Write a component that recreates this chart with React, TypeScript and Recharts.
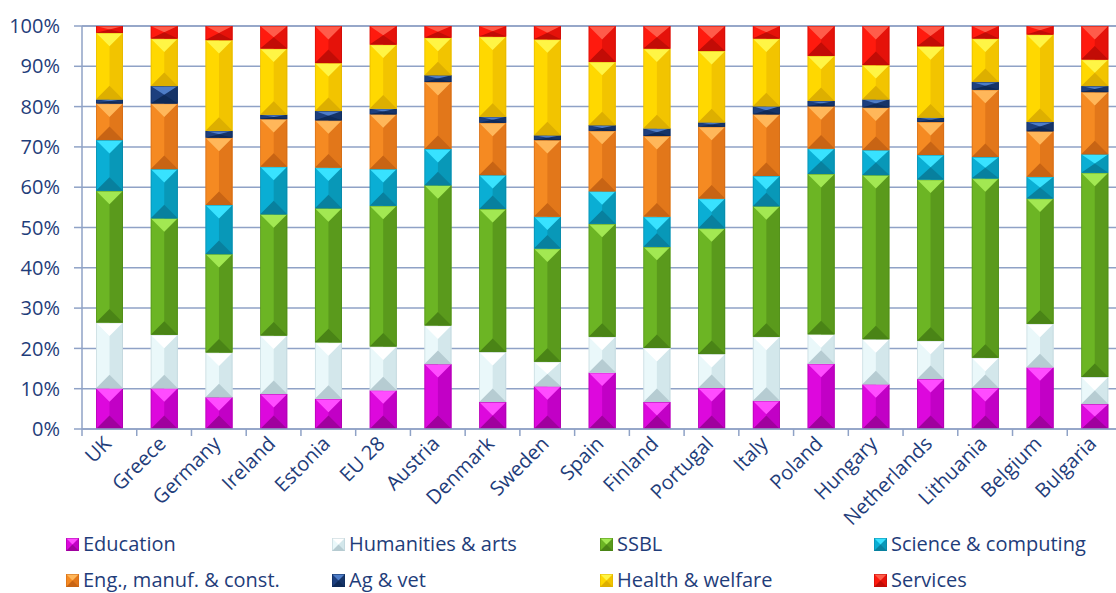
import React from 'react';
import { BarChart, Bar, XAxis, YAxis, CartesianGrid } from 'recharts';

const countries = ['UK', 'Greece', 'Germany', 'Ireland', 'Estonia', 'EU 28', 'Austria', 'Denmark', 'Sweden', 'Spain',
    'Finland', 'Portugal', 'Italy', 'Poland', 'Hungary', 'Netherlands', 'Lithuania', 'Belgium', 'Bulgaria'];

// shares in %, one value per country (same order as above)
const education = [10.1, 10.1, 7.9, 8.7, 7.5, 9.6, 16.1, 6.7, 10.6, 14.0, 6.7, 10.2, 7.0, 16.2, 11.1, 12.4, 10.2, 15.3, 6.2];
const humanities = [16.3, 13.3, 11.1, 14.5, 14.0, 10.9, 9.6, 12.4, 6.1, 8.9, 13.4, 8.4, 15.9, 7.3, 11.2, 9.5, 7.5, 10.8, 6.7];
const ssbl = [32.7, 28.9, 24.4, 30.1, 33.3, 34.9, 34.8, 35.5, 28.1, 28.0, 25.1, 31.2, 32.4, 39.8, 40.7, 40.0, 44.5, 31.1, 50.7];
const science = [12.6, 12.2, 12.2, 11.8, 10.1, 9.1, 9.0, 8.4, 7.9, 8.1, 7.5, 7.4, 7.5, 6.3, 6.2, 6.1, 5.3, 5.4, 4.6];
const engineering = [9.1, 16.3, 16.7, 11.8, 11.7, 13.6, 16.6, 13.0, 19.0, 15.0, 20.0, 17.8, 15.3, 10.5, 10.6, 8.2, 16.7, 11.3, 15.4];
const agVet = [1.0, 4.3, 1.7, 1.1, 2.3, 1.4, 1.7, 1.5, 1.2, 1.4, 1.9, 1.1, 2.0, 1.3, 2.0, 1.1, 1.9, 2.3, 1.5];
const health = [16.5, 11.8, 22.5, 16.4, 11.9, 15.9, 9.3, 19.9, 23.8, 15.7, 19.8, 17.7, 16.8, 11.2, 8.5, 17.7, 10.8, 21.7, 6.6];
const services = [1.7, 3.1, 3.5, 5.6, 9.2, 4.6, 2.9, 2.6, 3.3, 8.9, 5.6, 6.2, 3.1, 7.4, 9.7, 5.0, 3.1, 2.1, 8.3];

const yTicks = [0, 10, 20, 30, 40, 50, 60, 70, 80, 90, 100];

const series = [
    { key: 'edu', name: 'Education', values: education, main: '#DD08DD', light: '#FF4CFF', right: '#C200C6', bottom: '#A0009E' },
    { key: 'hum', name: 'Humanities & arts', values: humanities, main: '#EAF8FA', light: '#FFFFFF', right: '#D3E7EB', bottom: '#B6CCD2' },
    { key: 'ssbl', name: 'SSBL', values: ssbl, main: '#6CB524', light: '#A2E852', right: '#5A9A1C', bottom: '#4A8416' },
    { key: 'sci', name: 'Science & computing', values: science, main: '#0AAED4', light: '#38E2FF', right: '#0898B8', bottom: '#08809E' },
    { key: 'eng', name: 'Eng., manuf. & const.', values: engineering, main: '#F58A22', light: '#FFB75A', right: '#E2771A', bottom: '#C86414' },
    { key: 'ag', name: 'Ag & vet', values: agVet, main: '#1D3F7E', light: '#4E7DC8', right: '#163468', bottom: '#0E2A58' },
    { key: 'hw', name: 'Health & welfare', values: health, main: '#FFD800', light: '#FFF545', right: '#F2C400', bottom: '#DDAF00' },
    { key: 'srv', name: 'Services', values: services, main: '#FF1A0E', light: '#FF5C4A', right: '#E5120A', bottom: '#C20C06' },
];

const data = countries.map((c, i) => {
    const row: any = { name: c };
    series.forEach(s => { row[s.key] = s.values[i]; });
    return row;
});

const TEXT = '#1F3D7A';
const AXIS = '#8FA2C6';
const FONT = '"Open Sans", sans-serif';
const BAND = 1040 / 19;

// bevelled "pyramid" look of the original bars
const BevelRect = ({ x, y, width, height, s }: any) => {
    if (!height || height <= 0) return null;
    const d = Math.min(width / 2, height / 2);
    const cx = x + width / 2;
    return (
        <g>
            <rect x={x} y={y} width={width} height={height} fill={s.main} />
            <rect x={cx} y={y} width={width / 2} height={height} fill={s.right} />
            <polygon points={`${x},${y} ${x + width},${y} ${cx},${y + d}`} fill={s.light} />
            <polygon points={`${x},${y + height} ${x + width},${y + height} ${cx},${y + height - d}`} fill={s.bottom} />
            <rect x={x + 0.4} y={y + 0.4} width={width - 0.8} height={Math.max(height - 0.8, 0)} fill="none" stroke={s.bottom} strokeOpacity={0.6} strokeWidth={0.8} />
        </g>
    );
};

const XTick = ({ x, y, payload }: any) => (
    <g>
        <line x1={x - BAND / 2} y1={y} x2={x - BAND / 2} y2={y + 7} stroke={AXIS} strokeWidth={1.5} />
        <text x={x + 3} y={y + 16} textAnchor="end" transform={`rotate(-45, ${x + 3}, ${y + 16})`}
            fill={TEXT} fontSize={20} fontFamily={FONT}>
            {payload.value}
        </text>
    </g>
);

const legendLeft = [66, 332, 600, 874];
const legendTop = [537, 573];

const Legend = () => (
    <div>
        {series.map((s, i) => (
            <div key={s.key} style={{
                position: 'absolute', left: legendLeft[i % 4], top: legendTop[Math.floor(i / 4)],
                display: 'flex', alignItems: 'center', fontFamily: FONT, fontSize: 20, color: TEXT, whiteSpace: 'nowrap', lineHeight: '14px'
            }}>
                <svg width={13} height={13} style={{ marginRight: 4 }}>
                    <BevelRect x={0} y={0} width={13} height={13} s={s} />
                </svg>
                <span>{s.name}</span>
            </div>
        ))}
    </div>
);

export default function App() {
    return (
        <div style={{ position: 'absolute', left: 0, top: 0, width: 1116, height: 593, overflow: 'hidden', background: '#fff' }}>
            <BarChart width={1122} height={593} data={data} margin={{ top: 26, right: 0, left: 0, bottom: 44 }} barSize={27}>
                <CartesianGrid vertical={false} stroke={AXIS} strokeWidth={1.5} />
                <XAxis dataKey="name" interval={0} height={120} tickSize={0} tickMargin={0}
                    axisLine={{ stroke: AXIS, strokeWidth: 1.5 }} tickLine={false} tick={<XTick />} />
                <YAxis domain={[0, 100]} ticks={yTicks} width={82} tickSize={8} tickMargin={14}
                    tickFormatter={(v: number) => `${v}%`}
                    axisLine={{ stroke: AXIS, strokeWidth: 1.5 }} tickLine={{ stroke: AXIS, strokeWidth: 1.5 }}
                    tick={{ fill: TEXT, fontSize: 20, fontFamily: FONT }} />
                {series.map(s => (
                    <Bar key={s.key} dataKey={s.key} name={s.name} stackId="a" fill={s.main} isAnimationActive={false}
                        shape={(p: any) => <BevelRect {...p} s={s} />} />
                ))}
            </BarChart>
            <Legend />
        </div>
    );
}
